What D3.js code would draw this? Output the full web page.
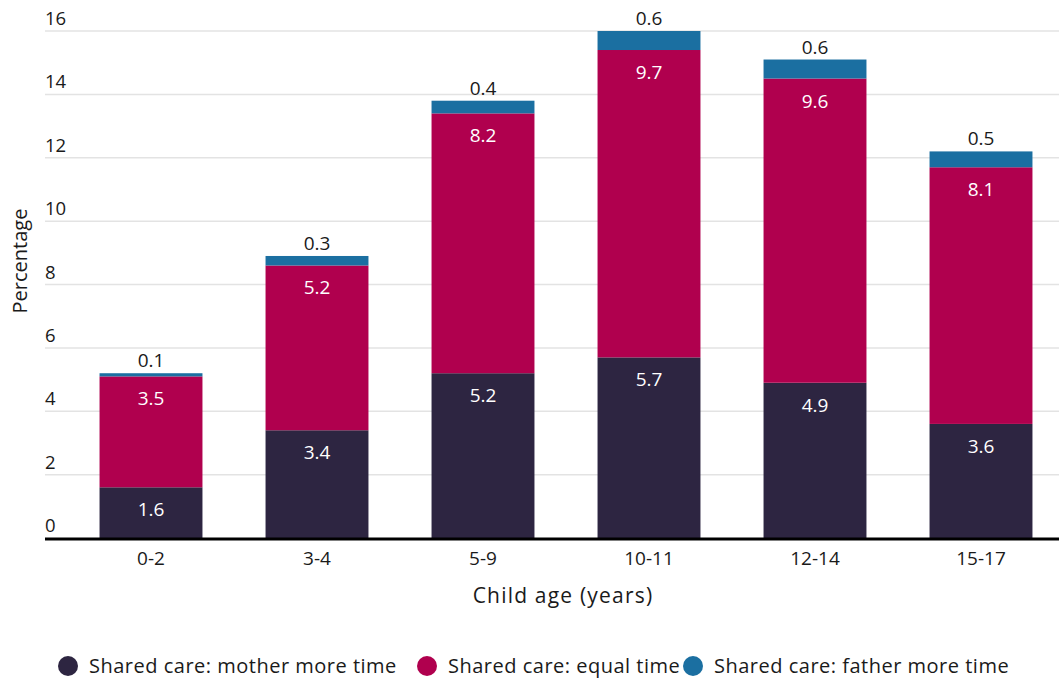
<!DOCTYPE html>
<html>
<head>
<meta charset="utf-8">
<script src="https://cdn.jsdelivr.net/npm/d3@7"></script>
<style>
  html, body { margin: 0; padding: 0; background: #fff; }
  svg { display: block; }
  text { font-family: "Open Sans", "Noto Sans", sans-serif; fill: #1a1a1a; }
</style>
</head>
<body>
<svg id="chart" width="1059" height="678"></svg>
<script>
// Age groups and the share of children in each shared-care arrangement (%)
const categories = ["0-2", "3-4", "5-9", "10-11", "12-14", "15-17"];
const motherMore = [1.6, 3.4, 5.2, 5.7, 4.9, 3.6];
const equalTime  = [3.5, 5.2, 8.2, 9.7, 9.6, 8.1];
const fatherMore = [0.1, 0.3, 0.4, 0.6, 0.6, 0.5];
const seriesNames = [
  "Shared care: mother more time",
  "Shared care: equal time",
  "Shared care: father more time"
];
const yTicks = [0, 2, 4, 6, 8, 10, 12, 14, 16];
const colors = ["#2d2541", "#b0004e", "#1b6fa1"];

const svg = d3.select("#chart");
const plot = { left: 45, right: 1059, top: 31, bottom: 538 };

const rows = categories.map((c, i) => ({
  cat: c, s0: motherMore[i], s1: equalTime[i], s2: fatherMore[i]
}));
const stack = d3.stack().keys(["s0", "s1", "s2"])(rows);

const x = d3.scaleBand()
  .domain(categories)
  .range([68, 1064])
  .paddingInner(0.38)
  .paddingOuter(0.19);

const y = d3.scaleLinear().domain([0, 16]).range([plot.bottom, plot.top]);

// Horizontal gridlines with labels sitting above each line
const grid = svg.append("g");
grid.selectAll("line").data(yTicks.filter(d => d > 0)).join("line")
  .attr("x1", plot.left).attr("x2", plot.right)
  .attr("y1", d => y(d)).attr("y2", d => y(d))
  .attr("stroke", "#e3e3e3").attr("stroke-width", 1.5);
grid.selectAll("text").data(yTicks).join("text")
  .attr("x", plot.left).attr("y", d => y(d) - 6)
  .attr("font-size", 18.5)
  .text(d => d);

// Stacked bars
const layers = svg.append("g").selectAll("g").data(stack).join("g")
  .attr("fill", (d, i) => colors[i]);
layers.selectAll("rect").data(d => d).join("rect")
  .attr("x", d => x(d.data.cat))
  .attr("width", x.bandwidth())
  .attr("y", d => y(d[1]))
  .attr("height", d => y(d[0]) - y(d[1]));

// Value labels: inside near the top for the first two segments, above for the last
const labels = svg.append("g").attr("text-anchor", "middle").attr("font-size", 19);
stack.forEach((layer, li) => {
  labels.selectAll(null).data(layer).join("text")
    .attr("x", d => x(d.data.cat) + x.bandwidth() / 2)
    .attr("y", d => li < 2 ? y(d[1]) + 29 : y(d[1]) - 6)
    .style("fill", li < 2 ? "#ffffff" : "#1a1a1a")
    .text(d => d3.format(".1f")(d[1] - d[0]));
});

// Baseline
svg.append("line")
  .attr("x1", plot.left).attr("x2", plot.right)
  .attr("y1", y(0) + 1).attr("y2", y(0) + 1)
  .attr("stroke", "#000").attr("stroke-width", 3);

// Category axis
const xAxis = svg.append("g")
  .attr("transform", `translate(0,${y(0) + 2})`)
  .call(d3.axisBottom(x).tickSize(0).tickPadding(12));
xAxis.select(".domain").remove();
xAxis.selectAll("text")
  .attr("font-size", 19)
  .style("font-family", "'Open Sans', sans-serif")
  .style("fill", "#1a1a1a");

// Axis titles
svg.append("text")
  .attr("x", 563).attr("y", 603)
  .attr("text-anchor", "middle").attr("font-size", 21)
  .attr("letter-spacing", 1.2)
  .text("Child age (years)");
svg.append("text")
  .attr("transform", "translate(27,261) rotate(-90)")
  .attr("text-anchor", "middle").attr("font-size", 20)
  .text("Percentage");

// Legend
const legendX = [68, 427, 693];
const legend = svg.append("g");
seriesNames.forEach((name, i) => {
  const g = legend.append("g").attr("transform", `translate(${legendX[i]},666)`);
  g.append("circle").attr("r", 10).attr("fill", colors[i]);
  g.append("text").attr("x", 21).attr("y", 7).attr("font-size", 20)
    .attr("letter-spacing", 0.5).text(name);
});
</script>
</body>
</html>
